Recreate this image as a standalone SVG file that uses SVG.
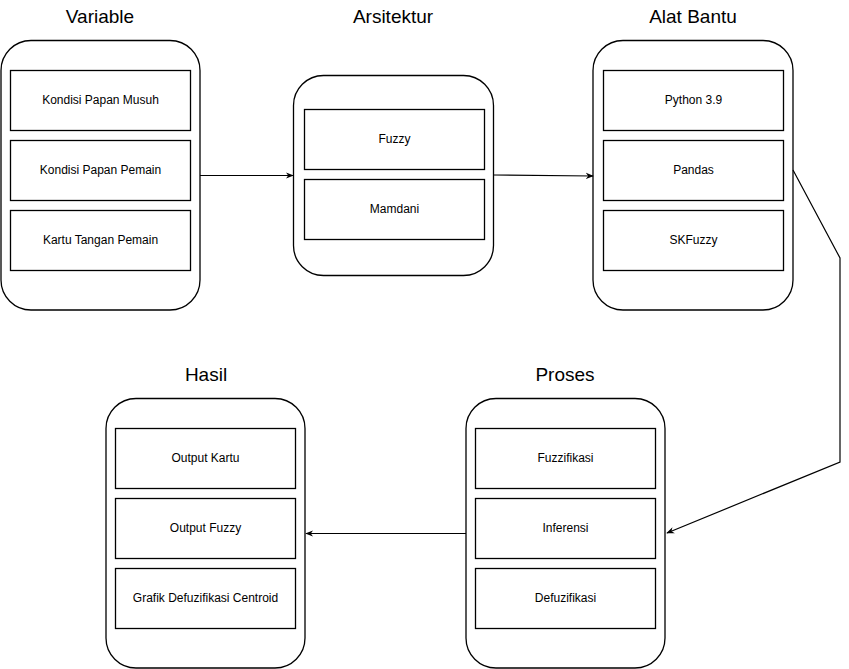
<svg xmlns="http://www.w3.org/2000/svg" width="849" height="669" viewBox="0 0 849 669">
<defs>
<style>
.c{fill:#fff;stroke:#000;stroke-width:1.3}
.b{fill:#fff;stroke:#000;stroke-width:1.3}
.t{font-family:"Liberation Sans",Arial,sans-serif;font-size:12px;fill:#000;text-anchor:middle;dominant-baseline:central}
.h{font-family:"Liberation Sans",Arial,sans-serif;font-size:19px;fill:#000;text-anchor:middle;dominant-baseline:central}
.e{fill:none;stroke:#000;stroke-width:1.2}
</style>
<marker id="a" viewBox="0 0 10 10" refX="9" refY="5" markerWidth="8" markerHeight="8" markerUnits="userSpaceOnUse" orient="auto">
<path d="M0,1 L10,5 L0,9 L3,5 Z" fill="#000"/>
</marker>
</defs>
<rect width="849" height="669" fill="#fff"/>
<g id="variable">
<text class="h" x="100" y="16">Variable</text>
<rect class="c" x="1" y="40.5" width="199" height="269.5" rx="30"/>
<rect class="b" x="10.5" y="70.5" width="180" height="60"/><text class="t" x="100.5" y="99.5">Kondisi Papan Musuh</text>
<rect class="b" x="10.5" y="140.5" width="180" height="60"/><text class="t" x="100.5" y="169.5">Kondisi Papan Pemain</text>
<rect class="b" x="10.5" y="210.5" width="180" height="60"/><text class="t" x="100.5" y="239.5">Kartu Tangan Pemain</text>
</g>
<g id="arsitektur">
<text class="h" x="393" y="16">Arsitektur</text>
<rect class="c" x="293.5" y="75.5" width="200" height="200" rx="30"/>
<rect class="b" x="304.5" y="109.5" width="180" height="60"/><text class="t" x="394.5" y="138.5">Fuzzy</text>
<rect class="b" x="304.5" y="179.5" width="180" height="60"/><text class="t" x="394.5" y="208.5">Mamdani</text>
</g>
<g id="alat-bantu">
<text class="h" x="693" y="16">Alat Bantu</text>
<rect class="c" x="593" y="40.5" width="200" height="269.5" rx="30"/>
<rect class="b" x="603.5" y="70.5" width="180" height="60"/><text class="t" x="693.5" y="99.5">Python 3.9</text>
<rect class="b" x="603.5" y="140.5" width="180" height="60"/><text class="t" x="693.5" y="169.5">Pandas</text>
<rect class="b" x="603.5" y="210.5" width="180" height="60"/><text class="t" x="693.5" y="239.5">SKFuzzy</text>
</g>
<g id="proses">
<text class="h" x="565" y="374">Proses</text>
<rect class="c" x="466" y="398.5" width="199" height="269.5" rx="30"/>
<rect class="b" x="475.5" y="428.5" width="180" height="60"/><text class="t" x="565.5" y="457.5">Fuzzifikasi</text>
<rect class="b" x="475.5" y="498.5" width="180" height="60"/><text class="t" x="565.5" y="527.5">Inferensi</text>
<rect class="b" x="475.5" y="568.5" width="180" height="60"/><text class="t" x="565.5" y="597.5">Defuzifikasi</text>
</g>
<g id="hasil">
<text class="h" x="206" y="374">Hasil</text>
<rect class="c" x="106" y="398.5" width="199" height="269.5" rx="30"/>
<rect class="b" x="115.5" y="428.5" width="180" height="60"/><text class="t" x="205.5" y="457.5">Output Kartu</text>
<rect class="b" x="115.5" y="498.5" width="180" height="60"/><text class="t" x="205.5" y="527.5">Output Fuzzy</text>
<rect class="b" x="115.5" y="568.5" width="180" height="60"/><text class="t" x="205.5" y="597.5">Grafik Defuzifikasi Centroid</text>
</g>
<g id="connectors">
<path class="e" d="M200,175.5 L293,175.5" marker-end="url(#a)"/>
<path class="e" d="M493.5,175 L593,176" marker-end="url(#a)"/>
<path class="e" d="M793,170 L840,258 L840,462 L667,533" marker-end="url(#a)"/>
<path class="e" d="M466,533.5 L306,533.5" marker-end="url(#a)"/>
</g>
</svg>
